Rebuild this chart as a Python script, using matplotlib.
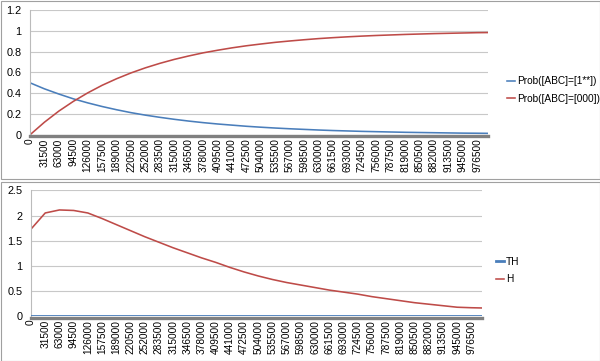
import matplotlib.pyplot as plt
from matplotlib.patches import Rectangle

plt.rcParams['font.family'] = ['Liberation Sans', 'DejaVu Sans']

# x categories (sample step) where values were read
steps = [0, 31500, 63000, 94500, 126000, 157500, 189000, 220500, 252000, 283500,
         315000, 346500, 378000, 409500, 441000, 472500, 504000, 535500, 567000,
         598500, 630000, 661500, 693000, 724500, 756000, 787500, 819000, 850500,
         882000, 913500, 945000, 976500, 1000000]

prob_1xx = [0.500, 0.442, 0.392, 0.346, 0.307, 0.272, 0.241, 0.213, 0.189, 0.168,
            0.149, 0.132, 0.117, 0.104, 0.093, 0.082, 0.073, 0.065, 0.058,
            0.052, 0.046, 0.041, 0.037, 0.033, 0.030, 0.027, 0.024, 0.022,
            0.020, 0.018, 0.016, 0.015, 0.014]

prob_000 = [0.0, 0.121, 0.228, 0.321, 0.403, 0.476, 0.539, 0.595, 0.644, 0.687,
            0.725, 0.758, 0.788, 0.813, 0.836, 0.856, 0.873, 0.889, 0.902,
            0.914, 0.925, 0.934, 0.942, 0.949, 0.955, 0.960, 0.965, 0.969,
            0.973, 0.976, 0.979, 0.982, 0.983]

th = [0.0, 0.0, 0.0, 0.0, 0.0, 0.0, 0.0, 0.0, 0.0, 0.0,
      0.0, 0.0, 0.0, 0.0, 0.0, 0.0, 0.0, 0.0, 0.0,
      0.0, 0.0, 0.0, 0.0, 0.0, 0.0, 0.0, 0.0, 0.0,
      0.0, 0.0, 0.0, 0.0, 0.0]

h = [1.73, 2.05, 2.11, 2.10, 2.05, 1.94, 1.82, 1.70, 1.58, 1.47,
     1.36, 1.26, 1.16, 1.07, 0.97, 0.88, 0.80, 0.73, 0.67,
     0.62, 0.57, 0.52, 0.48, 0.44, 0.39, 0.35, 0.31, 0.27,
     0.24, 0.21, 0.18, 0.17, 0.165]

tick_labels = steps[:-1]

BLUE = '#4A7EBB'
RED = '#BE4B48'
GRID = '#C8C8C8'

W, H = 600, 361
fig = plt.figure(figsize=(6, 3.61), dpi=100)


def style_axes(ax, ymax, ystep):
    ax.set_xlim(0, 1000000)
    ax.set_ylim(0, ymax)
    yt = [i * ystep for i in range(int(round(ymax / ystep)) + 1)]
    ax.set_yticks(yt)
    ax.set_yticklabels(['%g' % v for v in yt])
    ax.set_xticks(tick_labels)
    ax.set_xticklabels([str(v) for v in tick_labels])
    ax.yaxis.grid(True, color=GRID, linewidth=0.8)
    ax.set_axisbelow(True)
    ax.set_facecolor('none')
    for s in ['top', 'right']:
        ax.spines[s].set_visible(False)
    ax.spines['left'].set_color('#BBBBBB')
    ax.spines['left'].set_linewidth(0.8)
    ax.spines['bottom'].set_color('#808080')
    ax.spines['bottom'].set_linewidth(2.4)
    ax.spines['bottom'].set_position(('outward', 1.0))
    ax.tick_params(axis='y', length=0, pad=6, labelsize=7.8)
    ax.tick_params(axis='x', length=0, pad=1.5, labelsize=7.3,
                   labelrotation=90)


# chart frames
fig.patches.append(Rectangle((0.5 / W, 1 - 178.5 / H), 599 / W, 178 / H,
                             transform=fig.transFigure, fill=False,
                             edgecolor='#A0A0A0', linewidth=0.8))
fig.patches.append(Rectangle((0.5 / W, 0.5 / H), 599 / W, 179 / H,
                             transform=fig.transFigure, fill=False,
                             edgecolor='#A0A0A0', linewidth=0.8))

# top chart
ax1 = fig.add_axes([30 / W, 1 - 134.8 / H, 458 / W, 124.8 / H])
l1, = ax1.plot(steps, prob_1xx, color=BLUE, linewidth=1.15)
l2, = ax1.plot(steps, prob_000, color=RED, linewidth=1.15)
style_axes(ax1, 1.2, 0.2)
fig.legend([l1, l2], ['Prob([ABC]=[1**])', 'Prob([ABC]=[000])'],
           loc='center left', bbox_to_anchor=(507 / W, 1 - 90 / H),
           bbox_transform=fig.transFigure, frameon=False, fontsize=7.3,
           handlelength=0.75, handletextpad=0.2, labelspacing=0.75,
           borderpad=0, borderaxespad=0)

# bottom chart
ax2 = fig.add_axes([31 / W, 1 - 316.3 / H, 451 / W, 126 / H])
l3, = ax2.plot(steps, th, color=BLUE, linewidth=2.0, zorder=3)
l4, = ax2.plot(steps, h, color=RED, linewidth=1.15)
style_axes(ax2, 2.5, 0.5)
fig.legend([l3, l4], ['TH', 'H'],
           loc='center left', bbox_to_anchor=(496 / W, 1 - 270.5 / H),
           bbox_transform=fig.transFigure, frameon=False, fontsize=7.3,
           handlelength=0.8, handletextpad=0.2, labelspacing=0.75,
           borderpad=0, borderaxespad=0)

fig.savefig('out.png', dpi=100)
